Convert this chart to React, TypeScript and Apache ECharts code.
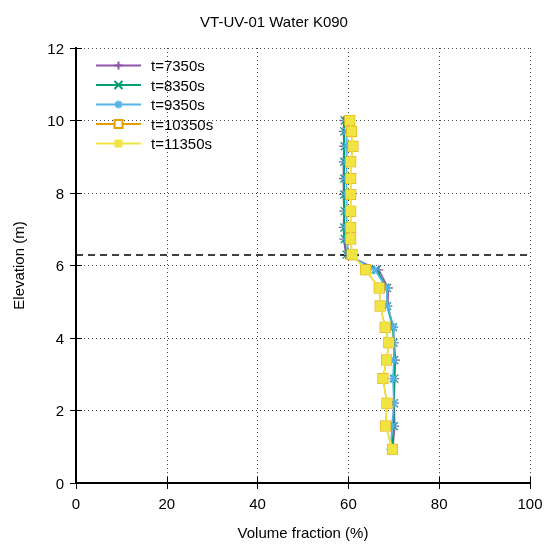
import React, { useEffect, useRef } from "react";
import * as echarts from "echarts";

const elevations = [0.93, 1.57, 2.2, 2.88, 3.39, 3.87, 4.3, 4.88, 5.38, 5.88, 6.3, 6.73, 7.05, 7.5, 7.96, 8.4, 8.86, 9.29, 9.7, 10.0];
const t7350 = [69.8, 70.2, 70.1, 70.2, 70.4, 70.1, 69.9, 68.7, 68.8, 66.7, 59.4, 59.0, 58.9, 59.0, 58.9, 58.9, 58.9, 59.0, 58.9, 59.0];
const t8350 = [69.5, 70.0, 70.0, 70.1, 70.1, 69.9, 69.8, 68.5, 68.5, 66.2, 59.6, 59.2, 59.1, 59.2, 59.1, 59.1, 59.1, 59.2, 59.1, 59.2];
const t9350 = [69.3, 69.6, 70.0, 69.8, 70.0, 70.0, 70.0, 68.6, 68.4, 65.8, 60.0, 59.7, 59.6, 59.7, 59.6, 59.6, 59.6, 59.7, 59.6, 59.7];
const t10350 = [69.7, 68.2, 68.5, 67.6, 68.4, 68.9, 68.1, 67.0, 66.8, 63.8, 60.8, 60.5, 60.5, 60.5, 60.5, 60.5, 60.5, 61.0, 60.7, 60.3];
const t11350 = [69.7, 68.2, 68.5, 67.6, 68.4, 68.9, 68.1, 67.0, 66.8, 63.8, 60.8, 60.5, 60.5, 60.5, 60.5, 60.5, 60.5, 61.0, 60.7, 60.3];
const seriesNames = ["t=7350s", "t=8350s", "t=9350s", "t=10350s", "t=11350s"];
const interfaceElevation = 6.3;
const xTicks = [0, 20, 40, 60, 80, 100];
const yTicks = [0, 2, 4, 6, 8, 10, 12];

const FONT = "'Liberation Sans', Arial, sans-serif";

export default function App() {
  const ref = useRef<HTMLDivElement>(null);
  useEffect(() => {
    if (!ref.current) return;
    const chart = echarts.init(ref.current, undefined, { renderer: "svg" });
    const colors = ["#8e55aa", "#009e73", "#56b4e9", "#e69f00", "#f0e442"];
    const symbols = [
      "path://M5,0 L5,10 M0,5 L10,5",
      "path://M0,0 L10,10 M10,0 L0,10",
      "path://M5,0 L5,10 M0,5 L10,5 M1.5,1.5 L8.5,8.5 M8.5,1.5 L1.5,8.5",
      "emptyRect",
      "rect",
    ];
    const sizes = [9, 8, 9, 9, 10];
    const vals = [t7350, t8350, t9350, t10350, t11350];
    const series: any[] = vals.map((v, i) => ({
      type: "line",
      name: seriesNames[i],
      data: v.map((x, k) => [x, elevations[k]]),
      symbol: symbols[i],
      symbolSize: sizes[i],
      showAllSymbol: true,
      lineStyle: { color: colors[i], width: 1.5 },
      itemStyle: { color: colors[i], borderColor: colors[i], borderWidth: i === 4 ? 0 : 1.3 },
      z: 3 + i,
    }));
    series[0].markLine = {
      silent: true,
      symbol: ["none", "none"],
      label: { show: false },
      lineStyle: { color: "#000", type: [7, 5], width: 1.5 },
      data: [{ yAxis: interfaceElevation }],
    };
    const axisCommon = {
      type: "value",
      axisLine: { show: true, lineStyle: { color: "#000", width: 2 } },
      axisTick: { show: true, inside: true, length: 6, lineStyle: { color: "#000", width: 1 } },
    };
    chart.setOption({
      animation: false,
      textStyle: { fontFamily: FONT },
      title: {
        text: "VT-UV-01 Water K090",
        left: "center",
        top: 9,
        textStyle: { fontFamily: FONT, fontSize: 15, fontWeight: "normal", color: "#000" },
      },
      legend: {
        orient: "vertical",
        left: 90,
        top: 53,
        itemWidth: 45,
        itemHeight: 10,
        itemGap: 4.5,
        data: seriesNames,
        textStyle: { fontFamily: FONT, fontSize: 15, color: "#000", lineHeight: 14, padding: [0, 0, 0, 5] },
      },
      grid: { left: 76, right: 18, top: 48, bottom: 60, containLabel: false },
      xAxis: [
        {
          ...axisCommon,
          min: 0,
          max: 100,
          interval: 20,
          position: "bottom",
          name: "Volume fraction (%)",
          nameLocation: "middle",
          nameGap: 42,
          nameTextStyle: { fontFamily: FONT, fontSize: 15, color: "#000" },
          axisLabel: { fontFamily: FONT, fontSize: 15, color: "#000", margin: 13, customValues: xTicks },
          splitLine: { show: true, lineStyle: { color: "#444", type: [1, 3], width: 1 } },
        },
        {
          ...axisCommon,
          min: 0,
          max: 100,
          interval: 20,
          position: "top",
          axisLabel: { show: false },
          splitLine: { show: false },
        },
      ],
      yAxis: [
        {
          ...axisCommon,
          min: 0,
          max: 12,
          interval: 2,
          position: "left",
          name: "Elevation (m)",
          nameLocation: "middle",
          nameGap: 50,
          nameTextStyle: { fontFamily: FONT, fontSize: 15, color: "#000" },
          axisLabel: { fontFamily: FONT, fontSize: 15, color: "#000", margin: 12, customValues: yTicks },
          splitLine: { show: true, lineStyle: { color: "#444", type: [1, 3], width: 1 } },
        },
        {
          ...axisCommon,
          min: 0,
          max: 12,
          interval: 2,
          position: "right",
          axisLabel: { show: false },
          splitLine: { show: false },
        },
      ],
      series,
    });
    return () => chart.dispose();
  }, []);
  return <div ref={ref} style={{ position: "fixed", left: 0, top: 0, width: 548, height: 545 }} />;
}
